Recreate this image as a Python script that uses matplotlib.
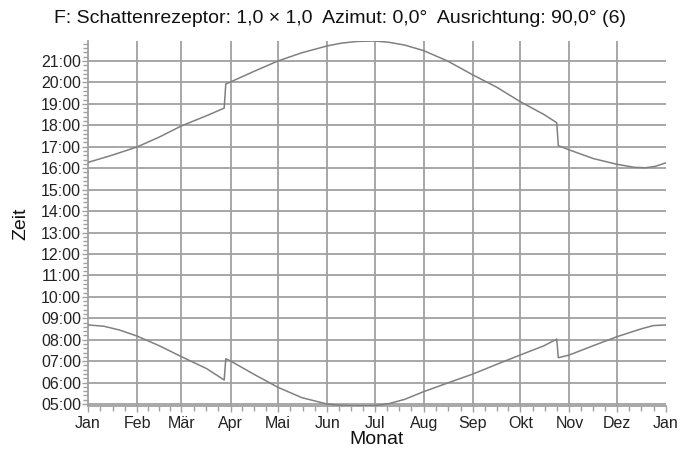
import matplotlib.pyplot as plt
from matplotlib.ticker import FuncFormatter, MultipleLocator, FixedLocator
import numpy as np

plt.rcParams['font.family'] = ['Liberation Sans', 'DejaVu Sans']

# month starts (day of year) and labels
month_days = [0, 31, 59, 90, 120, 151, 181, 212, 243, 273, 304, 334, 365]
month_labels = ['Jan', 'Feb', 'Mär', 'Apr', 'Mai', 'Jun', 'Jul', 'Aug',
                'Sep', 'Okt', 'Nov', 'Dez', 'Jan']

# end of shadow (upper curve), hours
sunset_day = [0, 15, 31, 45, 59, 75, 86, 87, 90, 105, 120, 135, 151, 160, 170,
              181, 190, 200, 212, 227, 243, 258, 273, 288, 296, 297, 304, 319,
              334, 345, 352, 358, 365]
sunset_h = [16.27, 16.60, 16.99, 17.45, 17.97, 18.45, 18.80, 19.92, 20.02, 20.52,
            21.00, 21.38, 21.70, 21.83, 21.91, 21.93, 21.87, 21.74, 21.48, 21.00,
            20.35, 19.78, 19.10, 18.50, 18.12, 17.05, 16.85, 16.45, 16.18, 16.04,
            16.02, 16.08, 16.25]

# start of shadow (lower curve), hours
sunrise_day = [0, 10, 20, 31, 45, 59, 75, 86, 87, 90, 105, 120, 135, 151, 160,
               170, 181, 190, 200, 212, 227, 243, 258, 273, 288, 296, 297, 304,
               319, 334, 349, 357, 365]
sunrise_h = [8.69, 8.63, 8.45, 8.17, 7.72, 7.21, 6.65, 6.12, 7.11, 7.01, 6.38,
             5.78, 5.30, 5.00, 4.94, 4.92, 4.93, 5.02, 5.22, 5.58, 5.98, 6.40,
             6.85, 7.29, 7.72, 8.03, 7.16, 7.29, 7.72, 8.14, 8.50, 8.66, 8.69]

grid_c = '#a0a0a0'
line_c = '#808080'

fig = plt.figure(figsize=(6.95, 4.53), dpi=100)
ax = fig.add_axes([88 / 695, 47 / 453, 578 / 695, 365 / 453])

# grid
for d in month_days[1:-1]:
    ax.axvline(d, color=grid_c, lw=1.3, zorder=1)
for h in range(5, 22):
    ax.axhline(h, color=grid_c, lw=1.3, zorder=1)

ax.plot(sunset_day, sunset_h, color=line_c, lw=1.1, zorder=3)
ax.plot(sunrise_day, sunrise_h, color=line_c, lw=1.1, zorder=3)

ax.set_xlim(0, 365)
ax.set_ylim(4.91, 21.93)

ax.xaxis.set_major_locator(FixedLocator(month_days))
ax.set_xticklabels(month_labels)
minor_x = []
for a, b in zip(month_days[:-1], month_days[1:]):
    minor_x += [a + (b - a) * k / 4 for k in (1, 2, 3)]
ax.xaxis.set_minor_locator(FixedLocator(minor_x))

ax.yaxis.set_major_locator(MultipleLocator(1))
ax.yaxis.set_minor_locator(MultipleLocator(0.2))
ax.yaxis.set_major_formatter(FuncFormatter(lambda v, p: '{:02d}:00'.format(int(round(v)))))

for s in ['top', 'right']:
    ax.spines[s].set_visible(False)
for s in ['left', 'bottom']:
    ax.spines[s].set_color(grid_c)
    ax.spines[s].set_linewidth(1.3)

ax.tick_params(which='both', direction='out', color=grid_c, labelsize=11.5, labelcolor='#222222')
ax.tick_params(which='major', length=4, width=1.0)
ax.tick_params(which='minor', length=3.5, width=1.0)
ax.tick_params(axis='y', pad=1)
ax.tick_params(axis='x', pad=3)

ax.set_xlabel('Monat', fontsize=14, labelpad=0, color='#111111')
ax.set_ylabel('Zeit', fontsize=14, labelpad=8, color='#111111')

fig.text(0.4885, 0.96, 'F: Schattenrezeptor: 1,0 × 1,0  Azimut: 0,0°  Ausrichtung: 90,0° (6)',
         ha='center', va='center', fontsize=14, color='#111111')

fig.savefig('out.png', dpi=100)
